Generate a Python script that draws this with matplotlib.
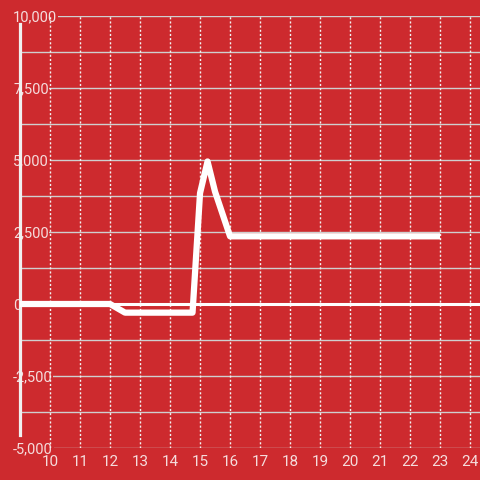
import numpy as np
import matplotlib
matplotlib.use("Agg")
import matplotlib.pyplot as plt
from matplotlib.ticker import FuncFormatter, MultipleLocator

plt.rcParams["font.family"] = ["Roboto", "DejaVu Sans"]

# data
x_vals = [9, 12, 12.5, 14.75, 15, 15.25, 15.5, 16, 23]
y_vals = [0, 0, -300, -300, 3850, 4950, 3900, 2350, 2350]
x_ticks = list(range(10, 25))
y_ticks = [-5000, -2500, 0, 2500, 5000, 7500, 10000]

bg = "#cd2a2e"
txt = "#f5dcdc"
grid_gray = "#cfcfcf"

fig = plt.figure(figsize=(4.8, 4.8), dpi=100)
fig.patch.set_facecolor(bg)
ax = fig.add_axes([20 / 480, 32 / 480, 460 / 480, 432 / 480])
ax.set_facecolor(bg)

ax.set_xlim(9, 24.33)
ax.set_ylim(-5000, 10000)

ax.set_xticks(x_ticks)
ax.set_yticks(y_ticks)
ax.yaxis.set_minor_locator(MultipleLocator(1250))
ax.yaxis.set_major_formatter(FuncFormatter(lambda v, p: f"{v:,.0f}"))

ax.grid(axis="x", which="major", color="#f2f2f2", lw=1, linestyle=(0, (1.5, 1.5)))
ax.grid(axis="y", which="both", color=grid_gray, lw=1)
ax.axhline(0, color="white", lw=2.2, zorder=1.8)

for s in ["top", "right", "bottom"]:
    ax.spines[s].set_visible(False)
ax.spines["left"].set_color("#f0f0f0")
ax.spines["left"].set_linewidth(2.3)
ax.spines["left"].set_bounds(-4550, 9720)

ax.tick_params(axis="both", which="both", length=0, colors=txt, labelsize=11)
ax.tick_params(axis="x", pad=5)
ax.tick_params(axis="y", pad=5, labelsize=10.5)
ax.xaxis.set_zorder(1.6)
for lab in ax.get_yticklabels():
    lab.set_horizontalalignment("left")
    lab.set_bbox(dict(facecolor=bg, edgecolor="none", pad=0.5))

ax.plot(x_vals, y_vals, color="white", lw=4.5, solid_joinstyle="round",
        solid_capstyle="butt", zorder=3, clip_on=False)

fig.savefig("out.png", dpi=100, facecolor=bg)
